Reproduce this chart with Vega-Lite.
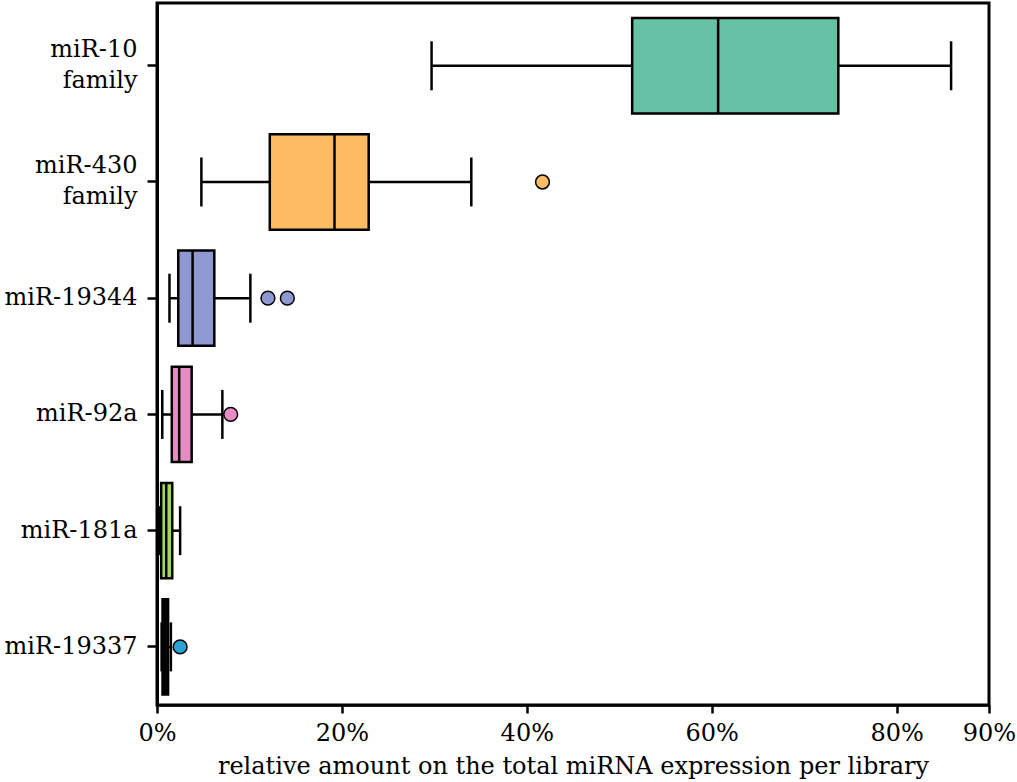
{
  "$schema": "https://vega.github.io/schema/vega-lite/v6.json",
  "width": 832,
  "height": 702,
  "autosize": "none",
  "padding": {"left": 157, "top": 3, "right": 28, "bottom": 77},
  "background": "white",
  "config": {
    "font": "DejaVu Serif",
    "view": {"stroke": "black", "strokeWidth": 3},
    "axis": {
      "labelFont": "DejaVu Serif",
      "titleFont": "DejaVu Serif",
      "labelColor": "black",
      "titleColor": "black",
      "labelFontSize": 24,
      "titleFontSize": 24,
      "titleFontWeight": "normal",
      "domainColor": "black",
      "tickColor": "black",
      "grid": false
    }
  },
  "datasets": {
    "stats": [
      {"name": "miR-10 family", "lo": 29.7, "q1": 51.4, "med": 60.7, "q3": 73.7, "hi": 85.9},
      {"name": "miR-430 family", "lo": 4.8, "q1": 12.2, "med": 19.2, "q3": 22.9, "hi": 34.0},
      {"name": "miR-19344", "lo": 1.35, "q1": 2.3, "med": 3.85, "q3": 6.2, "hi": 10.1},
      {"name": "miR-92a", "lo": 0.57, "q1": 1.6, "med": 2.4, "q3": 3.75, "hi": 7.07},
      {"name": "miR-181a", "lo": 0.2, "q1": 0.45, "med": 1.0, "q3": 1.65, "hi": 2.5},
      {"name": "miR-19337", "lo": 0.5, "q1": 0.6, "med": 0.9, "q3": 1.2, "hi": 1.5}
    ],
    "outliers": [
      {"name": "miR-430 family", "value": 41.7},
      {"name": "miR-19344", "value": 12.0},
      {"name": "miR-19344", "value": 14.1},
      {"name": "miR-92a", "value": 7.97},
      {"name": "miR-19337", "value": 2.5}
    ]
  },
  "encoding": {
    "y": {
      "field": "name",
      "type": "nominal",
      "scale": {
        "domain": ["miR-10 family", "miR-430 family", "miR-19344", "miR-92a", "miR-181a", "miR-19337"],
        "paddingInner": 0,
        "paddingOuter": 0.02,
        "align": 1
      },
      "axis": {
        "title": null,
        "domainWidth": 3,
        "tickSize": 10,
        "tickWidth": 2.5,
        "labelPadding": 10,
        "labelLineHeight": 31,
        "labelOffset": {"condition": {"test": "indexof(datum.value, ' ') > 0", "value": -16}, "value": 0},
        "labelExpr": "datum.label == 'miR-10 family' ? ['miR-10', 'family\u00a0'] : datum.label == 'miR-430 family' ? ['miR-430', 'family\u00a0\u00a0'] : datum.label"
      }
    }
  },
  "layer": [
    {
      "data": {"name": "stats"},
      "mark": {"type": "rule", "color": "black", "strokeWidth": 2.5},
      "encoding": {
        "x": {
          "field": "lo",
          "type": "quantitative",
          "scale": {"domain": [0, 90], "nice": false},
          "axis": {
            "title": "relative amount on the total miRNA expression per library",
            "values": [0, 20, 40, 60, 80, 90],
            "labelExpr": "datum.value + '%'",
            "labelFlush": false,
            "domainWidth": 2.5,
            "tickSize": 8,
            "tickWidth": 2.5,
            "labelPadding": 8,
            "titlePadding": 9
          }
        },
        "x2": {"field": "hi"}
      }
    },
    {
      "data": {"name": "stats"},
      "mark": {"type": "bar", "stroke": "black", "strokeWidth": 2.5, "height": {"band": 0.82}},
      "encoding": {
        "x": {"field": "q1", "type": "quantitative"},
        "x2": {"field": "q3"},
        "color": {
          "field": "name",
          "type": "nominal",
          "scale": {
            "domain": ["miR-10 family", "miR-430 family", "miR-19344", "miR-92a", "miR-181a", "miR-19337"],
            "range": ["#66c2a5", "#fdbb63", "#8f98d0", "#e88bc4", "#a6d854", "#1a1a1a"]
          },
          "legend": null
        }
      }
    },
    {
      "data": {"name": "stats"},
      "mark": {"type": "tick", "color": "black", "size": 96, "thickness": 2.5, "opacity": 1},
      "encoding": {"x": {"field": "med", "type": "quantitative"}}
    },
    {
      "data": {"name": "stats"},
      "mark": {"type": "tick", "color": "black", "size": 49, "thickness": 2.5, "opacity": 1},
      "encoding": {"x": {"field": "lo", "type": "quantitative"}}
    },
    {
      "data": {"name": "stats"},
      "mark": {"type": "tick", "color": "black", "size": 49, "thickness": 2.5, "opacity": 1},
      "encoding": {"x": {"field": "hi", "type": "quantitative"}}
    },
    {
      "data": {"name": "outliers"},
      "mark": {"type": "point", "shape": "circle", "filled": true, "size": 190, "stroke": "black", "strokeWidth": 1.5, "opacity": 1},
      "encoding": {
        "x": {"field": "value", "type": "quantitative"},
        "fill": {
          "field": "name",
          "type": "nominal",
          "scale": {
            "domain": ["miR-430 family", "miR-19344", "miR-92a", "miR-19337"],
            "range": ["#fdbb63", "#8f98d0", "#e88bc4", "#29a3d3"]
          },
          "legend": null
        }
      }
    }
  ]
}
